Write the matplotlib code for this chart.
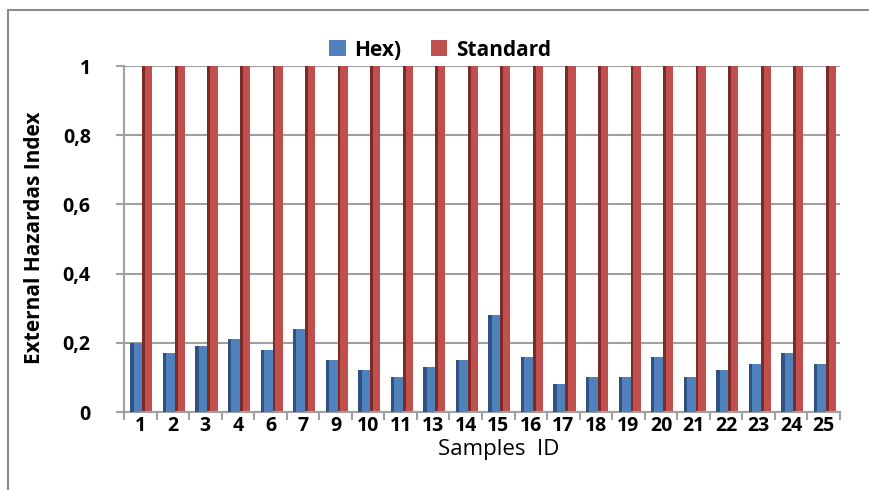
import matplotlib.pyplot as plt
from matplotlib.patches import Rectangle
import numpy as np

samples = ['1', '2', '3', '4', '6', '7', '9', '10', '11', '13', '14', '15',
           '16', '17', '18', '19', '20', '21', '22', '23', '24', '25']
hex_vals = [0.20, 0.17, 0.19, 0.21, 0.18, 0.24, 0.15, 0.12, 0.10, 0.13, 0.15,
            0.28, 0.16, 0.08, 0.10, 0.10, 0.16, 0.10, 0.12, 0.14, 0.17, 0.14]
standard_vals = [1] * len(samples)
y_ticks = [0, 0.2, 0.4, 0.6, 0.8, 1]
y_labels = ['0', '0,2', '0,4', '0,6', '0,8', '1']

plt.rcParams['font.family'] = ['Open Sans', 'DejaVu Sans']

fig = plt.figure(figsize=(8.69, 4.90), dpi=100)
W, H = 869, 490
ax = fig.add_axes([124 / W, 1 - 412 / H, (840 - 124) / W, (412 - 66) / H])

# outer chart frame (clipped at right/bottom like the source)
fig.patches.append(Rectangle((8 / W, -0.05), 1.2, 1 - 10 / H + 0.05,
                             transform=fig.transFigure, fill=False,
                             edgecolor='#8c8c8c', linewidth=1.5))

x = np.arange(len(samples))
blue, blue_dark = '#4f81bd', '#2f5282'
red, red_dark = '#c0504d', '#7a2a27'
bw, rw = 0.37, 0.31
bx = x - 0.12
rx = x + 0.22

ax.bar(bx, hex_vals, width=bw, color=blue, zorder=3, label='Hex)')
ax.bar(bx - bw * 0.36, hex_vals, width=bw * 0.28, color=blue_dark, zorder=3)
ax.bar(rx, standard_vals, width=rw, color=red, zorder=2, label='Standard')
ax.bar(rx - rw * 0.36, standard_vals, width=rw * 0.28, color=red_dark, zorder=2)

ax.set_xlim(-0.5, len(samples) - 0.5)
ax.set_ylim(0, 1)
ax.set_yticks(y_ticks)
ax.set_yticklabels(y_labels, fontsize=14, fontweight='bold')
ax.set_xticks(x)
ax.set_xticklabels(samples, fontsize=14, fontweight='bold')
ax.set_xticks(np.arange(len(samples) + 1) - 0.5, minor=True)
ax.tick_params(axis='x', which='major', length=0, pad=3)
ax.tick_params(axis='x', which='minor', length=6, color='#a0a0a0', width=1.5)
ax.tick_params(axis='y', length=6, color='#a0a0a0', width=1.5, pad=18)

ax.grid(axis='y', color='#a0a0a0', linewidth=1.5, zorder=0)
for side in ['top', 'right']:
    ax.spines[side].set_visible(False)
for side in ['left', 'bottom']:
    ax.spines[side].set_color('#a0a0a0')
    ax.spines[side].set_linewidth(1.5)

ax.set_xlabel('Samples  ID', fontsize=16, va='center')
ax.xaxis.set_label_coords((499 - 124) / (840 - 124), (412 - 449) / 346)
ax.set_ylabel('External Hazardas Index', fontsize=15, fontweight='bold', va='center')
ax.yaxis.set_label_coords((35 - 124) / (840 - 124), (412 - 238) / 346)

fig.legend(loc='center', bbox_to_anchor=(440 / W, 1 - 50 / H), ncol=2,
           frameon=False, handlelength=0.8, handleheight=0.8,
           handletextpad=0.4, columnspacing=1.4,
           prop={'size': 15, 'weight': 'bold'})

fig.savefig('out.png', dpi=100)
